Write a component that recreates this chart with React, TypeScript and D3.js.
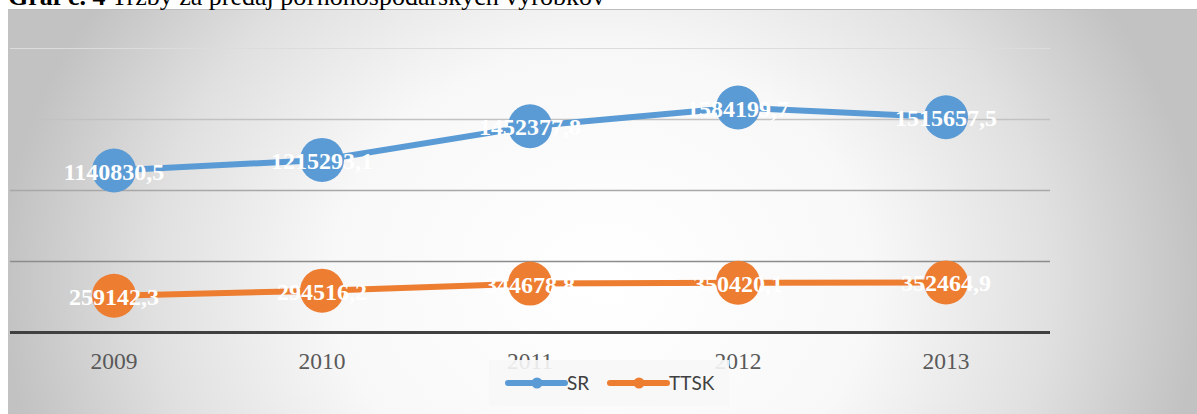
import React from "react";
import * as d3 from "d3";

const years = ["2009", "2010", "2011", "2012", "2013"];
const srValues = [1140830.5, 1215293.1, 1452377.8, 1584199.7, 1515657.5];
const ttskValues = [259142.3, 294516.2, 344678.8, 350420.1, 352464.9];
const yTicks = [0, 500000, 1000000, 1500000, 2000000];
const seriesNames = ["SR", "TTSK"];
const seriesColors = ["#5b9bd5", "#ed7d31"];
const titleBold = "Graf č. 4";
const titleRest = " Tržby za predaj poľnohospodárskych výrobkov";

const W = 1197;
const H = 414;

const gridColors = ["#404040", "#8c8c8c", "#a8a8a8", "#c2c2c2", "#dcdcdc"];
const gridWidths = [3, 1.6, 1.4, 1.3, 1.2];

function fmt(v: number) {
  return String(v).replace(".", ",");
}

export default function App() {
  const x = d3.scalePoint<string>().domain(years).range([10, 1050]).padding(0.5);
  const y = d3.scaleLinear().domain([0, 2000000]).range([332.5, 48.5]);
  const line = d3
    .line<number>()
    .x((_, i) => x(years[i]) as number)
    .y((d) => y(d));

  const series = [srValues, ttskValues];

  return (
    <svg
      width={W}
      height={H}
      style={{ position: "absolute", left: 0, top: 0, display: "block" }}
    >
      <defs>
        <radialGradient
          id="bg"
          gradientUnits="userSpaceOnUse"
          cx={602}
          cy={280}
          r={600}
          gradientTransform="translate(602,280) scale(1,0.85) translate(-602,-280)"
        >
          <stop offset="0" stopColor="#ffffff" />
          <stop offset="0.45" stopColor="#f8f8f8" />
          <stop offset="0.75" stopColor="#e0e0e0" />
          <stop offset="1" stopColor="#c2c2c2" />
        </radialGradient>
      </defs>
      <rect x={0} y={0} width={W} height={H} fill="#ffffff" />
      <rect x={8} y={9} width={W - 8} height={H - 9} fill="url(#bg)" />
      <line x1={8} x2={W} y1={9.5} y2={9.5} stroke="#bdbdbd" strokeWidth={1} />

      <text
        x={8}
        y={5}
        fontFamily="'Liberation Serif', 'Times New Roman', serif"
        fontSize={26}
        fill="#000"
      >
        <tspan fontWeight="bold">{titleBold}</tspan>
        <tspan>{titleRest}</tspan>
      </text>

      {yTicks.map((t, i) => (
        <line
          key={t}
          x1={10}
          x2={1050}
          y1={y(t)}
          y2={y(t)}
          stroke={gridColors[i]}
          strokeWidth={gridWidths[i]}
        />
      ))}

      {years.map((yr) => (
        <text
          key={yr}
          x={x(yr)}
          y={369}
          textAnchor="middle"
          fontFamily="'Liberation Serif', 'Times New Roman', serif"
          fontSize={23.5}
          fill="#595959"
        >
          {yr}
        </text>
      ))}

      {series.map((vals, si) => (
        <g key={"s" + si}>
          <path
            d={line(vals) || ""}
            stroke={seriesColors[si]}
            strokeWidth={6}
            strokeLinecap="round"
            strokeLinejoin="round"
            fill="none"
          />
          {vals.map((v, i) => (
            <circle
              key={i}
              cx={x(years[i]) as number}
              cy={y(v)}
              r={22}
              fill={seriesColors[si]}
            />
          ))}
        </g>
      ))}

      {series.map((vals, si) => (
        <g key={"l" + si}>
          {vals.map((v, i) => (
            <text
              key={i}
              x={x(years[i]) as number}
              y={y(v) + 9}
              textAnchor="middle"
              fontFamily="'Liberation Serif', 'Times New Roman', serif"
              fontWeight="bold"
              fontSize={24}
              fill="#ffffff"
            >
              {fmt(v)}
            </text>
          ))}
        </g>
      ))}

      <rect x={489} y={360} width={240} height={46} fill="#f7f7f7" opacity={0.9} />
      {seriesNames.map((name, i) => {
        const lx = 508 + i * 102;
        return (
          <g key={name}>
            <line
              x1={lx}
              x2={lx + 57}
              y1={383}
              y2={383}
              stroke={seriesColors[i]}
              strokeWidth={6}
              strokeLinecap="round"
            />
            <circle cx={lx + 29} cy={383} r={5.5} fill={seriesColors[i]} />
            <text
              x={lx + 59}
              y={390}
              fontFamily="Lato, 'Open Sans', sans-serif"
              fontSize={19}
              fill="#404040"
            >
              {name}
            </text>
          </g>
        );
      })}
    </svg>
  );
}
